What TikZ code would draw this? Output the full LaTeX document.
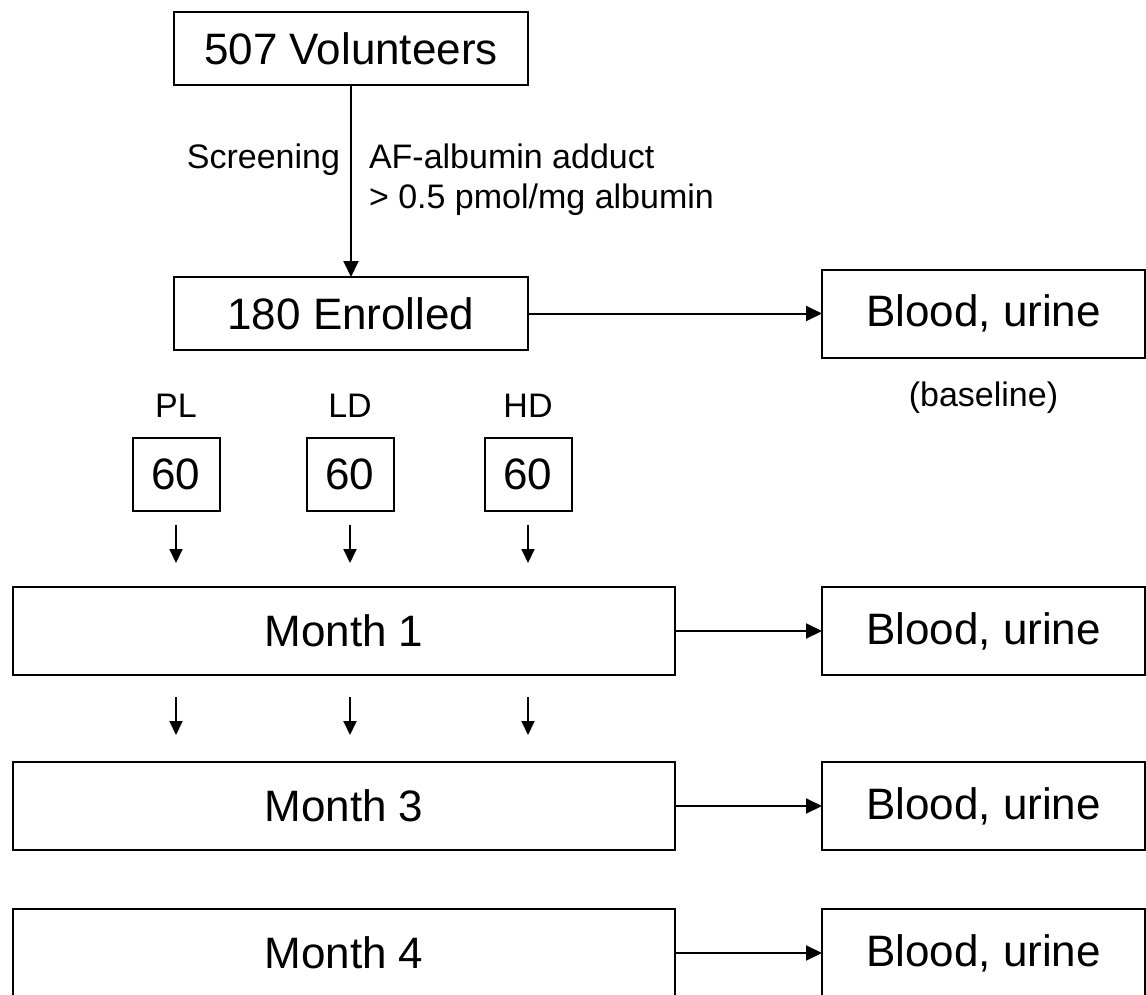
\documentclass[tikz,border=0pt]{standalone}
\usepackage{fontspec}
\setmainfont{Liberation Sans}
\usetikzlibrary{positioning,arrows.meta}

\begin{document}
\begin{tikzpicture}[
    x=0.5pt, y=-0.5pt,
    >={Triangle[length=8pt,width=7.5pt]},
    base/.style={draw,line width=1pt,inner sep=0pt,outer sep=0pt,align=center,font={\fontsize{22}{26}\selectfont}},
    txt/.style={inner sep=0pt,outer sep=0pt,font={\fontsize{17}{20}\selectfont}},
    head/.style={base,minimum width=177pt,minimum height=36.5pt},
    stage/.style={base,minimum width=331pt,minimum height=44pt},
    sample/.style={base,minimum width=161.5pt,minimum height=44pt},
    group/.style={base,minimum width=43.5pt,minimum height=36.5pt},
    link/.style={->,line width=1pt},
    short/.style={-{Triangle[length=7pt,width=6.5pt]},line width=1pt},
]
    \useasboundingbox (0,0) rectangle (1146,995);

    % Nodes
    \node[head] (volunteers) at (351,48.5)              {507 Volunteers};
    \node[head,below=96pt of volunteers] (enrolled)     {180 Enrolled};
    \node[sample,right=147pt of enrolled] (bloodbase)   {Blood, urine};

    \node[group] (grp1) at (176,474.5)                  {60};
    \node[group,right=43.5pt of grp1] (grp2)            {60};
    \node[group,right=45.5pt of grp2] (grp3)            {60};

    \node[stage] (month1) at (344,631)                  {Month 1};
    \node[stage,below=43.5pt of month1] (month3)        {Month 3};
    \node[stage,below=29.5pt of month3] (month4)        {Month 4};
    \node[sample,right=73.5pt of month1] (blood1)       {Blood, urine};
    \node[sample,right=73.5pt of month3] (blood3)       {Blood, urine};
    \node[sample,right=73.5pt of month4] (blood4)       {Blood, urine};

    % Text
    \node[txt,anchor=east] (screentxt) at (340,160)     {Screening};
    \node[txt,anchor=west,align=left] (criteria) at (369,180) {AF-albumin adduct\\> 0.5 pmol/mg albumin};
    \node[txt,below=12pt of bloodbase] (basetxt)        {(baseline)};
    \node[txt,above=10.5pt of grp1] (pltxt)             {PL};
    \node[txt,above=10.5pt of grp2] (ldtxt)             {LD};
    \node[txt,above=10.5pt of grp3] (hdtxt)             {HD};

    % Arrows
    \draw[link](volunteers) -- (enrolled);
    \draw[link](enrolled) -- (bloodbase);
    \draw[link](month1) -- (blood1);
    \draw[link](month3) -- (blood3);
    \draw[link](month4) -- (blood4);

    % Arrows from groups into month 1
    \draw[short,shorten <=7pt,shorten >=12pt](grp1) -- (grp1 |- month1.north);
    \draw[short,shorten <=7pt,shorten >=12pt](grp2) -- (grp2 |- month1.north);
    \draw[short,shorten <=7pt,shorten >=12pt](grp3) -- (grp3 |- month1.north);

    % Arrows from month 1 to month 3
    \draw[short,shorten <=11pt,shorten >=13.5pt](grp1 |- month1.south) -- (grp1 |- month3.north);
    \draw[short,shorten <=11pt,shorten >=13.5pt](grp2 |- month1.south) -- (grp2 |- month3.north);
    \draw[short,shorten <=11pt,shorten >=13.5pt](grp3 |- month1.south) -- (grp3 |- month3.north);

\end{tikzpicture}
\end{document}
